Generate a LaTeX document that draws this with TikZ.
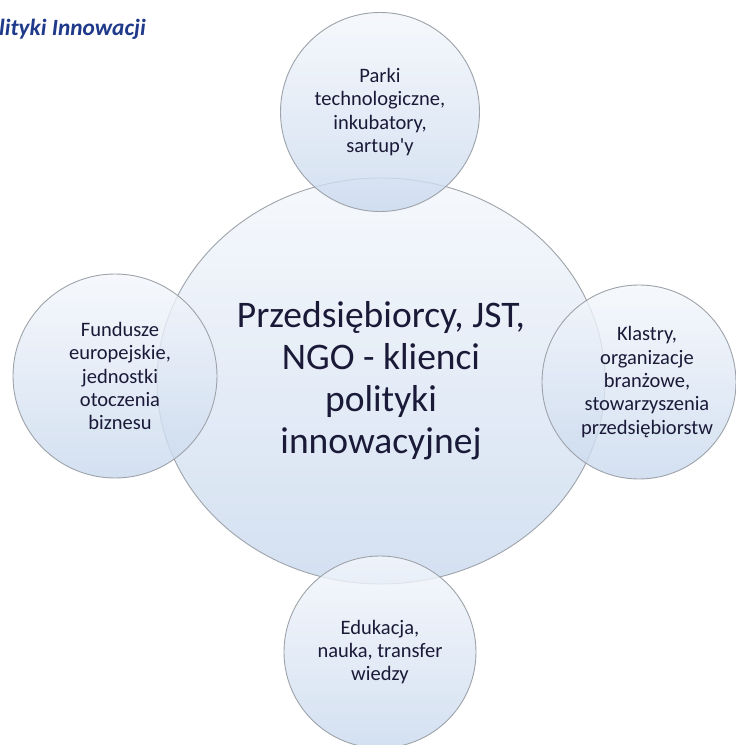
\documentclass[tikz,border=0pt]{standalone}
\usepackage{fontspec}
\setmainfont{Carlito}
\usepackage{xcolor}
\usepackage{tikz}
\usetikzlibrary{shapes.geometric, positioning}
\definecolor{ringtop}{HTML}{F4F7FC}
\definecolor{ringbot}{HTML}{C9D9EE}
\definecolor{ringedge}{HTML}{9EA3AA}
\definecolor{ringtext}{HTML}{1A1A38}
\definecolor{headblue}{HTML}{1F3A8A}

\tikzset{
  ring/.style={draw=ringedge, line width=0.9pt, top color=ringtop, bottom color=ringbot,
    fill opacity=0.8, draw opacity=1, text opacity=1, text=ringtext, align=center, inner sep=0pt},
  hub/.style={ring, ellipse, minimum width=448pt, minimum height=406pt,
    font=\fontsize{37.5}{42}\selectfont},
  sat/.style={ring, circle, minimum size=#1, font=\fontsize{20.5}{23.4}\selectfont},
  sat/.default=200pt
}

\begin{document}
\begin{tikzpicture}[x=1pt, y=1pt]
  \useasboundingbox (0,0) rectangle (736,745);
  \fill[white] (0,0) rectangle (736,745);

  % Heading cut at the left edge
  \node[anchor=base west, inner sep=0pt, text=headblue, font=\fontsize{23.3}{27}\selectfont\bfseries\itshape]
    (head) at (-1,709) {lityki Innowacji};

  % Centre ellipse
  \node[hub] (klienci) at (381,364) {Przedsiębiorcy, JST,\\NGO - klienci\\polityki\\innowacyjnej};

  % Satellites
  \node[sat=199pt] (parki) at (380,633) {Parki\\technologiczne,\\inkubatory,\\sartup\textquotesingle y};
  \node[sat=204pt] (fundusze) at (115,369) {\hspace*{10pt}Fundusze\\\hspace*{10pt}europejskie,\\\hspace*{10pt}jednostki\\\hspace*{10pt}otoczenia\\\hspace*{10pt}biznesu};
  \node[sat=194pt] (klastry) at (639,363) {\hspace*{16pt}Klastry,\\\hspace*{16pt}organizacje\\\hspace*{16pt}branżowe,\\\hspace*{16pt}stowarzyszenia\\\hspace*{16pt}przedsiębiorstw};
  \node[sat=192pt] (edukacja) at (380,93) {Edukacja,\\nauka, transfer\\wiedzy};
\end{tikzpicture}
\end{document}
